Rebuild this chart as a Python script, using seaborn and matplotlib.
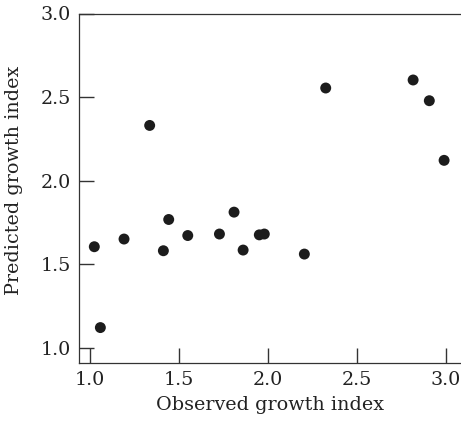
import matplotlib
matplotlib.use("Agg")
import matplotlib.pyplot as plt
import seaborn as sns
import pandas as pd

observed = [1.024, 1.058, 1.191, 1.335, 1.412, 1.442, 1.549, 1.727, 1.809,
            1.860, 1.951, 1.979, 2.204, 2.324, 2.815, 2.906, 2.989]
predicted = [1.604, 1.12, 1.65, 2.33, 1.58, 1.767, 1.671, 1.68, 1.811,
             1.584, 1.675, 1.68, 1.56, 2.554, 2.602, 2.478, 2.121]
x_ticks = [1.0, 1.5, 2.0, 2.5, 3.0]
y_ticks = [1.0, 1.5, 2.0, 2.5, 3.0]

df = pd.DataFrame({"Observed growth index": observed,
                   "Predicted growth index": predicted})

sns.set_style("ticks")
plt.rcParams["font.family"] = ["DejaVu Serif"]

fig = plt.figure(figsize=(4.61, 4.25), dpi=100)
ax = fig.add_axes([79 / 461, 1 - 363 / 425, (461 - 79) / 461, (363 - 13.5) / 425])

sns.scatterplot(data=df, x="Observed growth index", y="Predicted growth index",
                ax=ax, color="#1c1c1c", s=62, edgecolor="none", linewidth=0)

ax.set_xlim(0.938, 3.084)
ax.set_ylim(0.908, 3.0)
ax.set_xticks(x_ticks)
ax.set_yticks(y_ticks)
ax.set_xticklabels([f"{t:.1f}" for t in x_ticks])
ax.set_yticklabels([f"{t:.1f}" for t in y_ticks])
ax.tick_params(axis="both", which="major", direction="in", length=10.8,
               width=1.0, color="#333333", labelsize=13.8,
               labelcolor="#222222", pad=6,
               left=True, bottom=True, top=False, right=False)
for side in ["left", "bottom", "top"]:
    ax.spines[side].set_visible(True)
    ax.spines[side].set_color("#333333")
    ax.spines[side].set_linewidth(0.9)
ax.spines["right"].set_visible(False)
ax.set_xlabel("Observed growth index", fontsize=13.8, color="#222222", labelpad=5)
ax.set_ylabel("Predicted growth index", fontsize=13.8, color="#222222")
ax.yaxis.set_label_coords(-(79 - 23) / 382, (363 - 180) / 349.5)

fig.savefig("out.png", dpi=100)
